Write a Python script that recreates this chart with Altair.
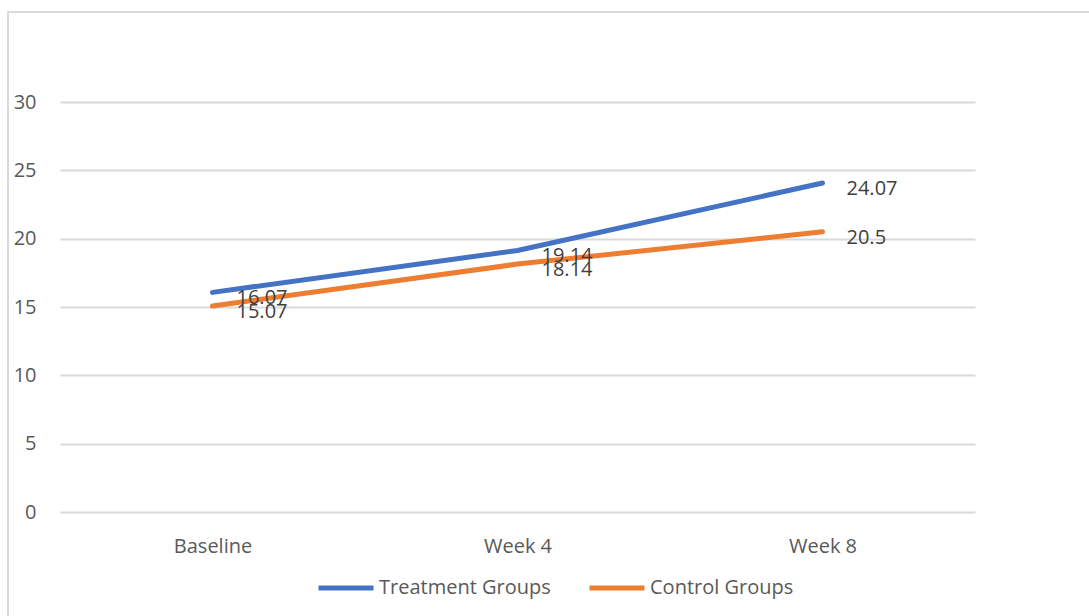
import altair as alt
import pandas as pd

categories = ["Baseline", "Week 4", "Week 8"]
treatment = [16.07, 19.14, 24.07]
control = [15.07, 18.14, 20.5]
series_names = ["Treatment Groups", "Control Groups"]
colors = ["#4472C4", "#ED7D31"]

rows = []
for name, vals in zip(series_names, [treatment, control]):
    for c, v in zip(categories, vals):
        rows.append({"Period": c, "Value": v, "Series": name})
df = pd.DataFrame(rows)

FONT = "Open Sans"
FS = 20

x_enc = alt.X("Period:N", sort=categories, title=None,
              scale=alt.Scale(paddingInner=0, paddingOuter=0.5, align=0.5),
              axis=alt.Axis(labelAngle=0, ticks=False, domain=False, grid=False,
                            labelFont=FONT, labelFontSize=FS, labelColor="#595959",
                            labelPadding=24))
y_enc = alt.Y("Value:Q", title=None,
              scale=alt.Scale(domain=[0, 30], nice=False),
              axis=alt.Axis(values=[0, 5, 10, 15, 20, 25, 30], ticks=False, domain=False,
                            grid=True, gridColor="#d9d9d9", gridWidth=2,
                            labelFont=FONT, labelFontSize=FS, labelColor="#595959",
                            labelPadding=24))

color_enc = alt.Color("Series:N", sort=series_names,
                      scale=alt.Scale(domain=series_names, range=colors),
                      legend=alt.Legend(title=None, orient="none", direction="horizontal",
                                        legendX=256, legendY=456,
                                        symbolType="stroke", symbolSize=3025,
                                        symbolStrokeWidth=5, labelFont=FONT,
                                        labelFontSize=FS, labelColor="#595959",
                                        labelLimit=0,
                                        labelOffset=3, columnPadding=28))

lines = alt.Chart(df).mark_line(strokeWidth=5, strokeCap="round").encode(
    x=x_enc, y=y_enc, color=color_enc, detail="Series:N"
)

labels = alt.Chart(df).mark_text(align="left", baseline="middle", dx=24, dy=6,
                                 font=FONT, fontSize=FS, color="#404040").encode(
    x=alt.X("Period:N", sort=categories),
    y=alt.Y("Value:Q"),
    text=alt.Text("Value:Q"),
)

border = alt.Chart(pd.DataFrame({"a": [0]})).mark_rect(
    fill=None, stroke="#d9d9d9", strokeWidth=2
).encode(
    x=alt.value(-52), x2=alt.value(1100), y=alt.value(-90), y2=alt.value(620)
)

chart = alt.layer(border, lines, labels).properties(
    width=915, height=410,
    background="white",
    autosize=alt.AutoSizeParams(type="none"),
    padding={"left": 60, "top": 102, "right": 114, "bottom": 104},
).configure_view(stroke=None)

chart.save("out.html", embed_options={"renderer": "svg", "actions": False})
